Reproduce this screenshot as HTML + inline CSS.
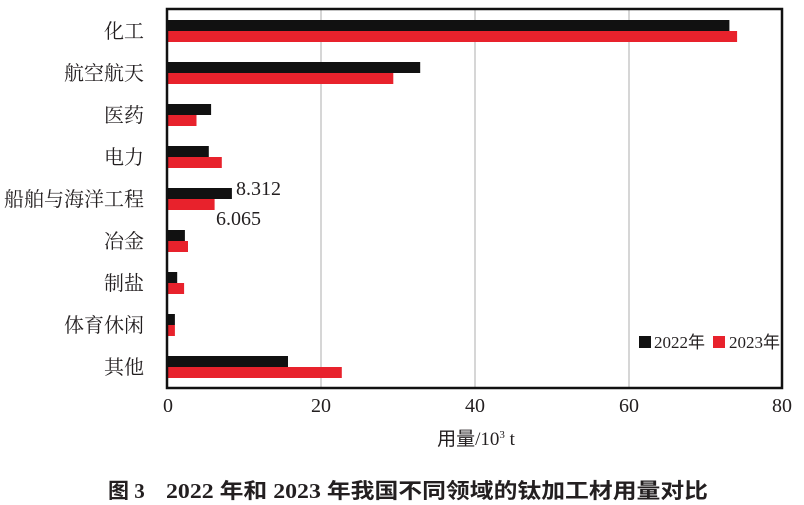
<!DOCTYPE html>
<html><head><meta charset="utf-8"><style>
body{margin:0;background:#fff}
svg{display:block}
text{font-family:"Liberation Serif","Noto Serif CJK SC",serif;fill:#231f20}
.c{font-family:"Liberation Serif","Noto Sans CJK SC",serif}
</style></head><body>
<svg width="804" height="505" viewBox="0 0 804 505" xmlns="http://www.w3.org/2000/svg">
<g stroke="#c8c8c8" stroke-width="1.5">
<line x1="321" y1="9" x2="321" y2="388"/><line x1="475" y1="9" x2="475" y2="388"/><line x1="629" y1="9" x2="629" y2="388"/>
</g>
<g fill="#111">
<rect x="168" y="20" width="561.4" height="11"/>
<rect x="168" y="62" width="252.2" height="11"/>
<rect x="168" y="104" width="43.1" height="11"/>
<rect x="168" y="146" width="40.8" height="11"/>
<rect x="168" y="188" width="63.9" height="11"/>
<rect x="168" y="230" width="16.9" height="11"/>
<rect x="168" y="272" width="9.2" height="11"/>
<rect x="168" y="314" width="6.9" height="11"/>
<rect x="168" y="356" width="120" height="11"/>
</g>
<g fill="#e8222c">
<rect x="168" y="31" width="569.1" height="11"/>
<rect x="168" y="73" width="225.3" height="11"/>
<rect x="168" y="115" width="28.5" height="11"/>
<rect x="168" y="157" width="53.8" height="11"/>
<rect x="168" y="199" width="46.6" height="11"/>
<rect x="168" y="241" width="20.0" height="11"/>
<rect x="168" y="283" width="16.1" height="11"/>
<rect x="168" y="325" width="6.9" height="11"/>
<rect x="168" y="367" width="173.8" height="11"/>
</g>
<rect x="167" y="9" width="615" height="379" fill="none" stroke="#111" stroke-width="2.5"/>
<g font-size="20" text-anchor="end" class="c">
<text x="144" y="38">化工</text><text x="144" y="80">航空航天</text><text x="144" y="122">医药</text>
<text x="144" y="164">电力</text><text x="144" y="206">船舶与海洋工程</text><text x="144" y="248">冶金</text>
<text x="144" y="290">制盐</text><text x="144" y="332">体育休闲</text><text x="144" y="374">其他</text>
</g>
<text x="236" y="195" font-size="20">8.312</text>
<text x="216" y="225" font-size="20">6.065</text>
<rect x="639" y="336" width="12" height="12" fill="#111"/>
<text x="654" y="348" font-size="17" class="c">2022年</text>
<rect x="713" y="336" width="12" height="12" fill="#e8222c"/>
<text x="729" y="348" font-size="17" class="c">2023年</text>
<g font-size="20" text-anchor="middle">
<text x="168" y="412">0</text><text x="321" y="412">20</text><text x="475" y="412">40</text><text x="629" y="412">60</text><text x="782" y="412">80</text>
</g>
<text x="476" y="445" font-size="19" text-anchor="middle" class="c">用量/10<tspan font-size="11" dy="-7">3</tspan><tspan dy="7"> t</tspan></text>
<text x="108" y="498" font-size="21" font-weight="bold" class="c">图 3</text>
<text x="166" y="498" font-size="21" font-weight="bold" class="c" textLength="542" lengthAdjust="spacingAndGlyphs">2022 年和 2023 年我国不同领域的钛加工材用量对比</text>
</svg>
</body></html>
